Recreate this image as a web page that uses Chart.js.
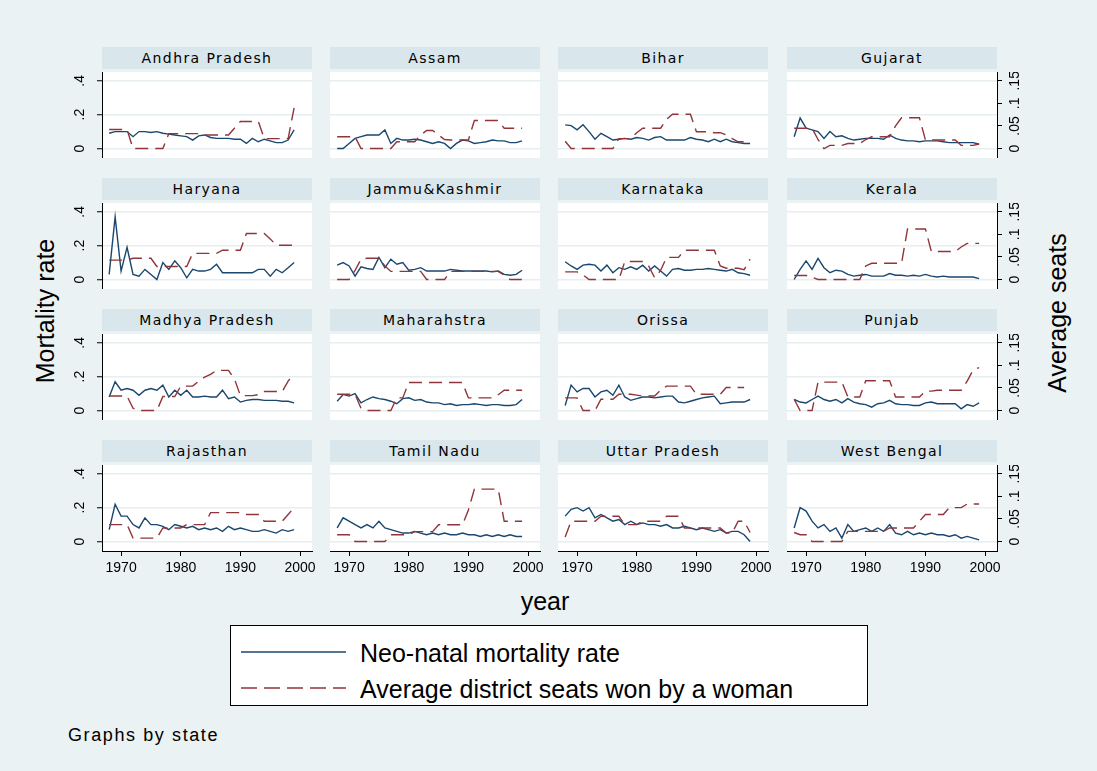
<!DOCTYPE html>
<html>
<head>
<meta charset="utf-8">
<script src="https://cdn.jsdelivr.net/npm/chart.js@4.4.1/dist/chart.umd.min.js"></script>
<style>
  html, body { margin: 0; padding: 0; background: #ffffff; }
  #graph { position: absolute; left: 0; top: 0; width: 1097px; height: 771px; background: #eaf2f3; overflow: hidden;
           font-family: "Liberation Sans", Arial, sans-serif; color: #000; }
  canvas { position: absolute; }
  .strip { position: absolute; height: 22px; line-height: 22px; background: #d9e6eb; text-align: center;
           font-family: "DejaVu Sans", sans-serif; font-size: 14px; letter-spacing: 1.4px; color: #000; white-space: nowrap; }
  .title { position: absolute; white-space: nowrap; font-size: 25px; transform: translate(-50%, -50%); }
  .vtitle { transform: translate(-50%, -50%) rotate(-90deg); }
  #legend { position: absolute; left: 230px; top: 625px; width: 636px; height: 79px; background: #fff; border: 1px solid #000; }
  #legend svg { position: absolute; left: 0; top: 0; }
  .key { position: absolute; left: 129px; font-size: 25px; white-space: nowrap; transform: translateY(-50%); }
  #note { position: absolute; left: 68px; top: 735px; font-size: 18px; letter-spacing: 1.6px; transform: translateY(-50%); white-space: nowrap; }
</style>
</head>
<body>
<div id="graph">
  <div class="title vtitle" style="left:45px; top:311px;">Mortality rate</div>
  <div class="title vtitle" style="left:1057px; top:313px;">Average seats</div>
  <div class="title" style="left:545px; top:601px;">year</div>
  <div id="legend">
    <svg width="636" height="79">
      <line x1="10" y1="26" x2="115" y2="26" stroke="#1a476f" stroke-width="1.5"/>
      <line x1="10" y1="62" x2="115" y2="62" stroke="#90353b" stroke-width="1.5" stroke-dasharray="16 7"/>
    </svg>
    <div class="key" style="top:27px;">Neo-natal mortality rate</div>
    <div class="key" style="top:63px;">Average district seats won by a woman</div>
  </div>
  <div id="note">Graphs by state</div>
</div>
<script>
// Years covered by every panel
const years = [1968, 1969, 1970, 1971, 1972, 1973, 1974, 1975, 1976, 1977, 1978, 1979, 1980, 1981, 1982, 1983,
               1984, 1985, 1986, 1987, 1988, 1989, 1990, 1991, 1992, 1993, 1994, 1995, 1996, 1997, 1998, 1999];

// Tick values of the three axes
const yearTicks = [1970, 1980, 1990, 2000];
const mortalityTicks = [0, 0.2, 0.4];
const seatTicks = [0, 0.05, 0.1, 0.15];

// Panel order (row by row)
const states = ["Andhra Pradesh", "Assam", "Bihar", "Gujarat",
                "Haryana", "Jammu&Kashmir", "Karnataka", "Kerala",
                "Madhya Pradesh", "Maharahstra", "Orissa", "Punjab",
                "Rajasthan", "Tamil Nadu", "Uttar Pradesh", "West Bengal"];

// Neo-natal mortality rate by state
const nmrAndhraPradesh = [.09,.10,.10,.10,.07,.10,.10,.095,.10,.09,.085,.08,.075,.07,.05,.075,.08,.065,.06,.06,.06,.055,.055,.03,.06,.04,.055,.045,.035,.035,.05,.11];
const nmrAssam = [0,0,.03,.06,.07,.08,.08,.08,.11,.03,.06,.05,.05,.055,.05,.04,.03,.04,.03,0,.03,.05,.045,.03,.035,.04,.05,.045,.045,.035,.035,.045];
const nmrBihar = [.14,.135,.11,.14,.10,.055,.09,.07,.05,.055,.06,.055,.065,.06,.05,.065,.07,.05,.05,.05,.05,.065,.055,.05,.04,.055,.04,.055,.04,.035,.03,.03];
const nmrGujarat = [.07,.18,.12,.11,.10,.06,.10,.07,.075,.06,.05,.055,.06,.06,.06,.055,.08,.06,.05,.045,.045,.04,.045,.045,.045,.04,.035,.035,.035,.035,.035,.025];
const nmrHaryana = [.03,.37,.05,.19,.03,.02,.06,.03,0,.10,.06,.11,.07,.01,.06,.05,.05,.06,.09,.04,.04,.04,.04,.04,.04,.06,.06,.02,.06,.04,.07,.10];
const nmrJammuKashmir = [.085,.10,.08,.02,.075,.065,.06,.13,.07,.12,.09,.10,.055,.06,.07,.05,.05,.05,.05,.06,.055,.05,.05,.05,.05,.05,.045,.05,.03,.025,.03,.055];
const nmrKarnataka = [.105,.08,.06,.085,.09,.085,.05,.085,.04,.07,.06,.075,.06,.085,.05,.08,.05,.02,.06,.065,.055,.055,.06,.06,.065,.06,.055,.05,.06,.04,.035,.025];
const nmrKerala = [0,.06,.11,.06,.125,.07,.04,.055,.05,.03,.02,.025,.03,.02,.02,.02,.035,.025,.025,.02,.025,.02,.03,.02,.015,.02,.015,.015,.015,.015,.015,.005];
const nmrMadhyaPradesh = [.08,.17,.12,.13,.12,.09,.12,.13,.12,.15,.08,.12,.09,.12,.08,.08,.085,.08,.08,.12,.07,.08,.05,.06,.065,.065,.06,.06,.06,.055,.055,.045];
const nmrMaharashtra = [.055,.095,.085,.10,.045,.065,.08,.07,.065,.055,.04,.07,.075,.06,.065,.05,.045,.045,.035,.04,.03,.035,.035,.04,.035,.03,.035,.035,.03,.03,.035,.065];
const nmrOrissa = [.03,.15,.11,.13,.13,.08,.11,.12,.09,.15,.08,.06,.07,.08,.08,.075,.08,.085,.085,.05,.045,.055,.065,.075,.08,.085,.04,.045,.05,.05,.05,.065];
const nmrPunjab = [.065,.05,.045,.065,.085,.065,.055,.065,.045,.07,.05,.04,.035,.02,.04,.045,.06,.04,.035,.035,.03,.03,.045,.05,.04,.04,.04,.04,.01,.035,.025,.045];
const nmrRajasthan = [.07,.22,.15,.15,.10,.08,.14,.10,.10,.09,.07,.10,.09,.08,.09,.07,.08,.07,.08,.06,.09,.07,.08,.07,.06,.06,.07,.06,.05,.07,.06,.07];
const nmrTamilNadu = [.08,.14,.12,.10,.08,.10,.08,.12,.08,.07,.06,.05,.05,.06,.05,.04,.05,.04,.05,.04,.04,.05,.04,.04,.03,.04,.03,.04,.03,.04,.03,.03];
const nmrUttarPradesh = [.15,.19,.20,.18,.20,.14,.16,.14,.12,.13,.10,.12,.10,.11,.10,.10,.09,.10,.08,.08,.09,.08,.07,.08,.07,.06,.07,.05,.06,.06,.04,0];
const nmrWestBengal = [.08,.20,.18,.12,.08,.10,.06,.08,.02,.10,.06,.07,.08,.06,.08,.06,.10,.05,.04,.06,.04,.05,.04,.05,.04,.04,.03,.04,.02,.03,.02,.01];

// Average district seats won by a woman, by state
const seatsAndhraPradesh = [.042,.042,.042,.042,0,0,0,0,0,0,.033,.033,.033,.033,.033,.033,.03,.03,.03,.03,.03,.045,.06,.06,.06,.06,.022,.022,.022,.022,.022,.09];
const seatsAssam = [.026,.026,.026,.026,0,0,0,0,0,0,.015,.015,.015,.015,.03,.04,.04,.03,.02,.019,.019,.019,.019,.062,.062,.062,.062,.062,.045,.045,.045,.045];
const seatsBihar = [.016,0,0,0,0,0,0,0,0,.022,.022,.022,.035,.045,.045,.045,.045,.065,.076,.076,.076,.076,.037,.037,.037,.035,.035,.03,.022,.015,.015,.015];
const seatsGujarat = [.045,.045,.045,.045,.02,0,.007,.007,.007,.011,.011,.011,.02,.026,.026,.026,.026,.05,.068,.068,.068,.068,.019,.019,.019,.019,.019,.019,.007,.007,.007,.01];
const seatsHaryana = [.043,.043,.043,.043,.047,.047,.047,.047,.029,.029,.029,.029,.029,.029,.058,.058,.058,.058,.058,.065,.065,.065,.065,.102,.102,.102,.102,.09,.076,.076,.076,.076];
const seatsJammuKashmir = [0,0,0,.02,.045,.047,.047,.047,.03,.018,.018,.018,.018,.018,.018,0,0,0,0,.018,.018,.018,.018,.018,.018,.018,.018,.018,.01,0,0,0];
const seatsKarnataka = [.017,.017,.017,.01,0,0,0,0,0,0,.04,.04,.04,.04,.03,.004,.02,.049,.049,.049,.065,.065,.065,.065,.065,.065,.03,.025,.025,.025,.022,.045];
const seatsKerala = [.009,.009,.009,.005,0,0,0,0,0,0,0,0,.03,.036,.036,.036,.036,.036,.036,.112,.112,.112,.112,.062,.062,.062,.062,.062,.072,.08,.08,.08];
const seatsMadhyaPradesh = [.032,.032,.032,.032,.005,0,0,0,0,.031,.031,.031,.054,.054,.054,.065,.074,.08,.089,.089,.089,.07,.033,.033,.033,.035,.042,.042,.042,.042,.065,.082];
const seatsMaharashtra = [.036,.036,.036,.036,.005,0,0,0,0,0,.028,.028,.062,.062,.062,.062,.062,.062,.062,.062,.062,.062,.028,.028,.028,.028,.028,.035,.045,.045,.045,.045];
const seatsOrissa = [.028,.028,.028,0,0,0,.025,.025,.025,.036,.036,.036,.034,.032,.032,.032,.045,.054,.054,.054,.054,.054,.036,.036,.036,.036,.036,.051,.051,.051,.051,null];
const seatsPunjab = [.025,0,0,0,.063,.063,.063,.063,.063,.03,.03,.03,.066,.066,.066,.066,.066,.03,.03,.03,.03,.03,.043,.043,.045,.045,.045,.045,.045,.065,.09,.095];
const seatsRajasthan = [.0375,.0375,.0375,.0375,.0075,.0075,.0075,.0075,.0075,.03,.03,.03,.03,.0375,.0375,.0375,.0375,.064,.064,.064,.064,.064,.064,.06,.06,.06,.045,.045,.045,.045,.06,.075];
const seatsTamilNadu = [.015,.015,.015,0,0,0,0,0,0,.015,.015,.015,.015,.022,.022,.022,.022,.037,.037,.037,.037,.037,.07,.116,.116,.116,.116,.116,.045,.045,.045,.045];
const seatsUttarPradesh = [.01,.045,.045,.045,.045,.045,.056,.056,.056,.056,.0375,.0375,.0375,.045,.045,.045,.045,.056,.056,.056,.03,.03,.03,.03,.03,.03,.03,.019,.019,.045,.045,.02];
const seatsWestBengal = [.02,.015,.015,0,0,0,0,0,0,.0225,.0225,.0225,.0225,.0225,.0225,.0225,.03,.03,.03,.03,.03,.045,.06,.06,.06,.06,.075,.075,.075,.083,.083,.083];

const mortalitySeries = [nmrAndhraPradesh, nmrAssam, nmrBihar, nmrGujarat, nmrHaryana, nmrJammuKashmir, nmrKarnataka, nmrKerala,
                         nmrMadhyaPradesh, nmrMaharashtra, nmrOrissa, nmrPunjab, nmrRajasthan, nmrTamilNadu, nmrUttarPradesh, nmrWestBengal];
const seatSeries = [seatsAndhraPradesh, seatsAssam, seatsBihar, seatsGujarat, seatsHaryana, seatsJammuKashmir, seatsKarnataka, seatsKerala,
                    seatsMadhyaPradesh, seatsMaharashtra, seatsOrissa, seatsPunjab, seatsRajasthan, seatsTamilNadu, seatsUttarPradesh, seatsWestBengal];

// Panel geometry
const colLeft = [102, 330, 558, 787];
const rowTop = [72, 203, 334, 465];
const PLOT_W = 210, PLOT_H = 86;
const AXIS_L = 45, AXIS_R = 45, AXIS_B = 35, LABEL_ROOM = 18;

const X_MIN = 1966.8, X_MAX = 2002.0;
const Y_MIN = -0.056, Y_MAX = 0.452;
const SEAT_RATIO = 0.375;  // right axis spans 0.375 of the left one

const BLUE = "#1a476f", RED = "#90353b", GRID = "#e6eef0";
const tickFont = { family: "Liberation Sans", size: 14 };

const fmt = v => (v === 0 ? "0" : String(v).replace(/^0\./, "."));

const plotBackground = {
  id: "plotBackground",
  beforeDraw(chart) {
    const { ctx, chartArea: a } = chart;
    ctx.save();
    ctx.fillStyle = "#ffffff";
    ctx.fillRect(a.left, a.top, a.right - a.left, a.bottom - a.top);
    ctx.restore();
  }
};

const graph = document.getElementById("graph");

states.forEach((name, i) => {
  const r = Math.floor(i / 4), c = i % 4;
  const padL = c === 0 ? AXIS_L : 0;
  const padR = c === 3 ? AXIS_R : 0;
  const padB = r === 3 ? AXIS_B : 0;
  // room on the right for the last year label of the bottom panels
  const extraR = (r === 3 && c !== 3) ? LABEL_ROOM : 0;

  const strip = document.createElement("div");
  strip.className = "strip";
  strip.style.left = colLeft[c] + "px";
  strip.style.top = (rowTop[r] - 25) + "px";
  strip.style.width = PLOT_W + "px";
  strip.textContent = name;
  graph.appendChild(strip);

  const canvas = document.createElement("canvas");
  canvas.width = PLOT_W + padL + padR + extraR;
  canvas.height = PLOT_H + padB;
  canvas.style.left = (colLeft[c] - padL) + "px";
  canvas.style.top = rowTop[r] + "px";
  graph.appendChild(canvas);

  new Chart(canvas, {
    type: "line",
    data: {
      datasets: [
        {
          label: "Neo-natal mortality rate",
          data: years.map((yr, k) => ({ x: yr, y: mortalitySeries[i][k] })),
          yAxisID: "y", borderColor: BLUE, borderWidth: 1.4, pointRadius: 0, tension: 0, order: 1
        },
        {
          label: "Average district seats won by a woman",
          data: years.map((yr, k) => ({ x: yr, y: seatSeries[i][k] })),
          yAxisID: "y1", borderColor: RED, borderWidth: 1.4, borderDash: [13, 7], pointRadius: 0, tension: 0, order: 0
        }
      ]
    },
    options: {
      responsive: false,
      animation: false,
      events: [],
      layout: { padding: { left: 0, top: 0, bottom: 0, right: extraR } },
      plugins: { legend: { display: false }, tooltip: { enabled: false } },
      scales: {
        x: {
          type: "linear", min: X_MIN, max: X_MAX, display: r === 3,
          afterBuildTicks: s => { s.ticks = yearTicks.map(v => ({ value: v })); },
          afterFit: s => { s.height = padB; s.paddingLeft = 0; s.paddingRight = 0; },
          grid: { drawOnChartArea: false, tickLength: 5, tickColor: "#000", lineWidth: 1 },
          border: { color: "#000", width: 1 },
          ticks: { font: tickFont, color: "#000", padding: 4, maxRotation: 0, minRotation: 0, autoSkip: false,
                   callback: v => String(v) }
        },
        y: {
          type: "linear", position: "left", min: Y_MIN, max: Y_MAX, display: true,
          afterBuildTicks: s => { s.ticks = mortalityTicks.map(v => ({ value: v })); },
          afterFit: s => { s.width = padL; s.paddingTop = 0; s.paddingBottom = 0; },
          grid: { color: GRID, lineWidth: 1.5, drawTicks: c === 0, tickLength: 5, tickColor: "#000", tickWidth: 1 },
          border: { display: c === 0, color: "#000", width: 1 },
          ticks: { display: c === 0, font: tickFont, color: "#000", minRotation: 90, maxRotation: 90,
                   crossAlign: "center", padding: 11, autoSkip: false, callback: fmt }
        },
        y1: {
          type: "linear", position: "right", min: Y_MIN * SEAT_RATIO, max: Y_MAX * SEAT_RATIO, display: c === 3,
          afterBuildTicks: s => { s.ticks = seatTicks.map(v => ({ value: v })); },
          afterFit: s => { s.width = padR; s.paddingTop = 0; s.paddingBottom = 0; },
          grid: { drawOnChartArea: false, tickLength: 5, tickColor: "#000", tickWidth: 1 },
          border: { color: "#000", width: 1 },
          ticks: { font: tickFont, color: "#000", minRotation: 90, maxRotation: 90,
                   crossAlign: "center", padding: 3.5, autoSkip: false, callback: fmt }
        }
      }
    },
    plugins: [plotBackground]
  });
});
</script>
</body>
</html>
